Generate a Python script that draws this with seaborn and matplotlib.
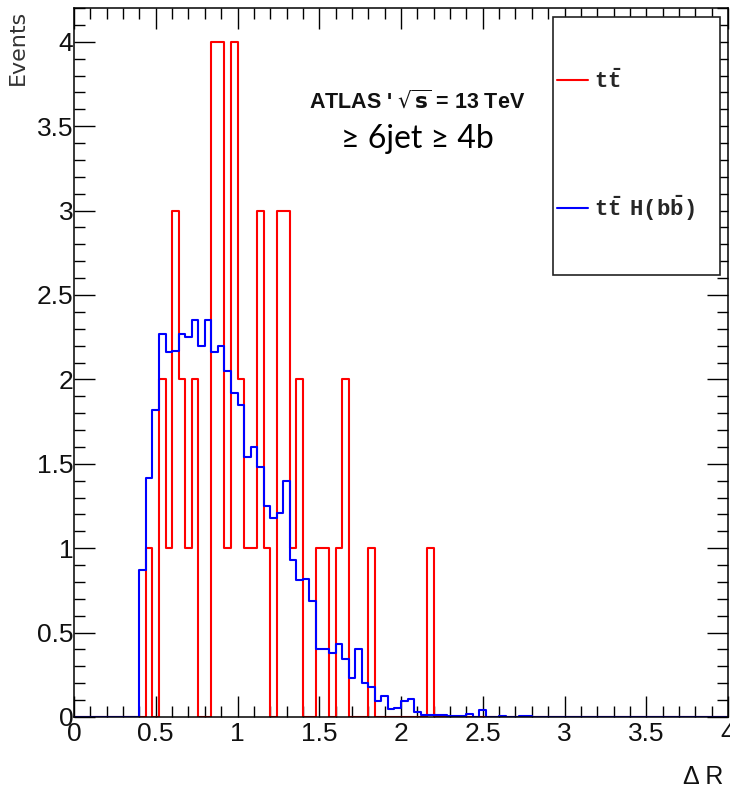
import numpy as np
import pandas as pd
import seaborn as sns
import matplotlib.pyplot as plt
from matplotlib.lines import Line2D
from matplotlib.patches import Rectangle
from matplotlib.ticker import MultipleLocator, FuncFormatter

# Delta R histograms, 100 bins of width 0.04 from 0 to 4
bin_edges = np.linspace(0, 4, 101)
bin_centers = (bin_edges[:-1] + bin_edges[1:]) / 2

tt_counts = [
    0, 0, 0, 0, 0, 0, 0, 0, 0, 0,
    0, 1, 0, 2, 1, 3, 2, 1, 2, 0,
    0, 4, 4, 1, 4, 2, 1, 1, 3, 1,
    0, 3, 3, 1, 2, 0, 0, 1, 1, 0,
    1, 2, 0, 0, 0, 1, 0, 0, 0, 0,
    0, 0, 0, 0, 1, 0, 0, 0, 0, 0,
    0, 0, 0, 0, 0, 0, 0, 0, 0, 0,
    0, 0, 0, 0, 0, 0, 0, 0, 0, 0,
    0, 0, 0, 0, 0, 0, 0, 0, 0, 0,
    0, 0, 0, 0, 0, 0, 0, 0, 0, 0,
]

tth_counts = [
    0, 0, 0, 0, 0, 0, 0, 0, 0, 0,
    0.87, 1.415, 1.82, 2.27, 2.16, 2.17, 2.27, 2.25, 2.35, 2.20,
    2.35, 2.16, 2.20, 2.05, 1.92, 1.85, 1.54, 1.60, 1.48, 1.25,
    1.18, 1.21, 1.40, 0.93, 0.81, 0.82, 0.69, 0.40, 0.40, 0.38,
    0.435, 0.345, 0.23, 0.40, 0.20, 0.175, 0.095, 0.125, 0.05, 0.055,
    0.095, 0.108, 0.03, 0.014, 0.014, 0.014, 0.014, 0.008, 0.008, 0.008,
    0.018, 0, 0.044, 0, 0, 0.008, 0, 0, 0.008, 0.008,
    0, 0, 0, 0, 0, 0, 0, 0, 0, 0,
    0, 0, 0, 0, 0, 0, 0, 0, 0, 0,
    0, 0, 0, 0, 0, 0, 0, 0, 0, 0,
]

series_labels = [r"$t\bar{t}$", r"$t\bar{t}\ \ H(b\bar{b})$"]
series_colors = ["#ff0000", "#0000ff"]

df = pd.DataFrame({"dR": bin_centers, "tt": tt_counts, "tth": tth_counts})

sns.set_style("ticks")
plt.rcParams["font.family"] = ["Liberation Sans", "DejaVu Sans"]
plt.rcParams["mathtext.fontset"] = "custom"
plt.rcParams["mathtext.rm"] = "Liberation Mono:bold"
plt.rcParams["mathtext.it"] = "Liberation Mono:bold"
plt.rcParams["mathtext.bf"] = "Liberation Mono:bold"

fig = plt.figure(figsize=(7.3, 7.86), dpi=100)
ax = fig.add_axes([74 / 730, 69 / 786, 654 / 730, 709 / 786])

edges = bin_edges.tolist()
sns.histplot(data=df, x="dR", weights="tt", bins=edges, element="step",
             fill=False, color=series_colors[0], linewidth=1.5, ax=ax)
sns.histplot(data=df, x="dR", weights="tth", bins=edges, element="step",
             fill=False, color=series_colors[1], linewidth=1.5, ax=ax)

ax.set_xlim(0, 4)
ax.set_ylim(0, 4.2)

fmt = FuncFormatter(lambda v, p: "%g" % v)
ax.xaxis.set_major_locator(MultipleLocator(0.5))
ax.xaxis.set_minor_locator(MultipleLocator(0.1))
ax.yaxis.set_major_locator(MultipleLocator(0.5))
ax.yaxis.set_minor_locator(MultipleLocator(0.1))
ax.xaxis.set_major_formatter(fmt)
ax.yaxis.set_major_formatter(fmt)

ax.tick_params(which="both", direction="in", top=True, right=True,
               width=1.0, color="black", labelsize=19, labelcolor="#111111")
ax.tick_params(which="major", length=15)
ax.tick_params(which="minor", length=8)
ax.tick_params(axis="x", pad=3.5)
ax.tick_params(axis="y", pad=0.5)
for s in ax.spines.values():
    s.set_linewidth(1.1)
    s.set_color("black")

ax.set_ylabel("Events", loc="top", fontsize=16, color="#333333", family="DejaVu Sans")
ax.yaxis.set_label_coords(-0.07, 0.997)
ax.set_xlabel("\u0394 R", loc="right", fontsize=18, color="#111111")
ax.xaxis.set_label_coords(0.993, -0.068)

# legend box
box = Rectangle((553 / 730, 1 - 275 / 786), 167 / 730, 258 / 786,
                transform=fig.transFigure, facecolor="white",
                edgecolor="#222222", linewidth=1.2, zorder=5)
fig.add_artist(box)
handles = [Line2D([], [], color=c, linewidth=1.5) for c in series_colors]
leg = fig.legend(handles, series_labels, loc="upper left",
                 bbox_to_anchor=(557 / 730, 1 - 69 / 786),
                 bbox_transform=fig.transFigure, frameon=False,
                 borderpad=0, borderaxespad=0, handlelength=1.4,
                 handletextpad=0.25, labelspacing=4.5, fontsize=16)
leg.set_zorder(6)

fig.text(417 / 730, 1 - 108 / 786, r"ATLAS ' $\sqrt{\mathbf{s}}$ = 13 TeV",
         ha="center", va="baseline", fontsize=15.5, fontweight="bold",
         math_fontfamily="dejavusans", color="#111111")
fig.text(417 / 730, 1 - 148 / 786, "\u2265 6jet \u2265 4b",
         ha="center", va="baseline", fontsize=23,
         family=["Lato", "DejaVu Sans"], color="black")

fig.savefig("out.png", dpi=100)
